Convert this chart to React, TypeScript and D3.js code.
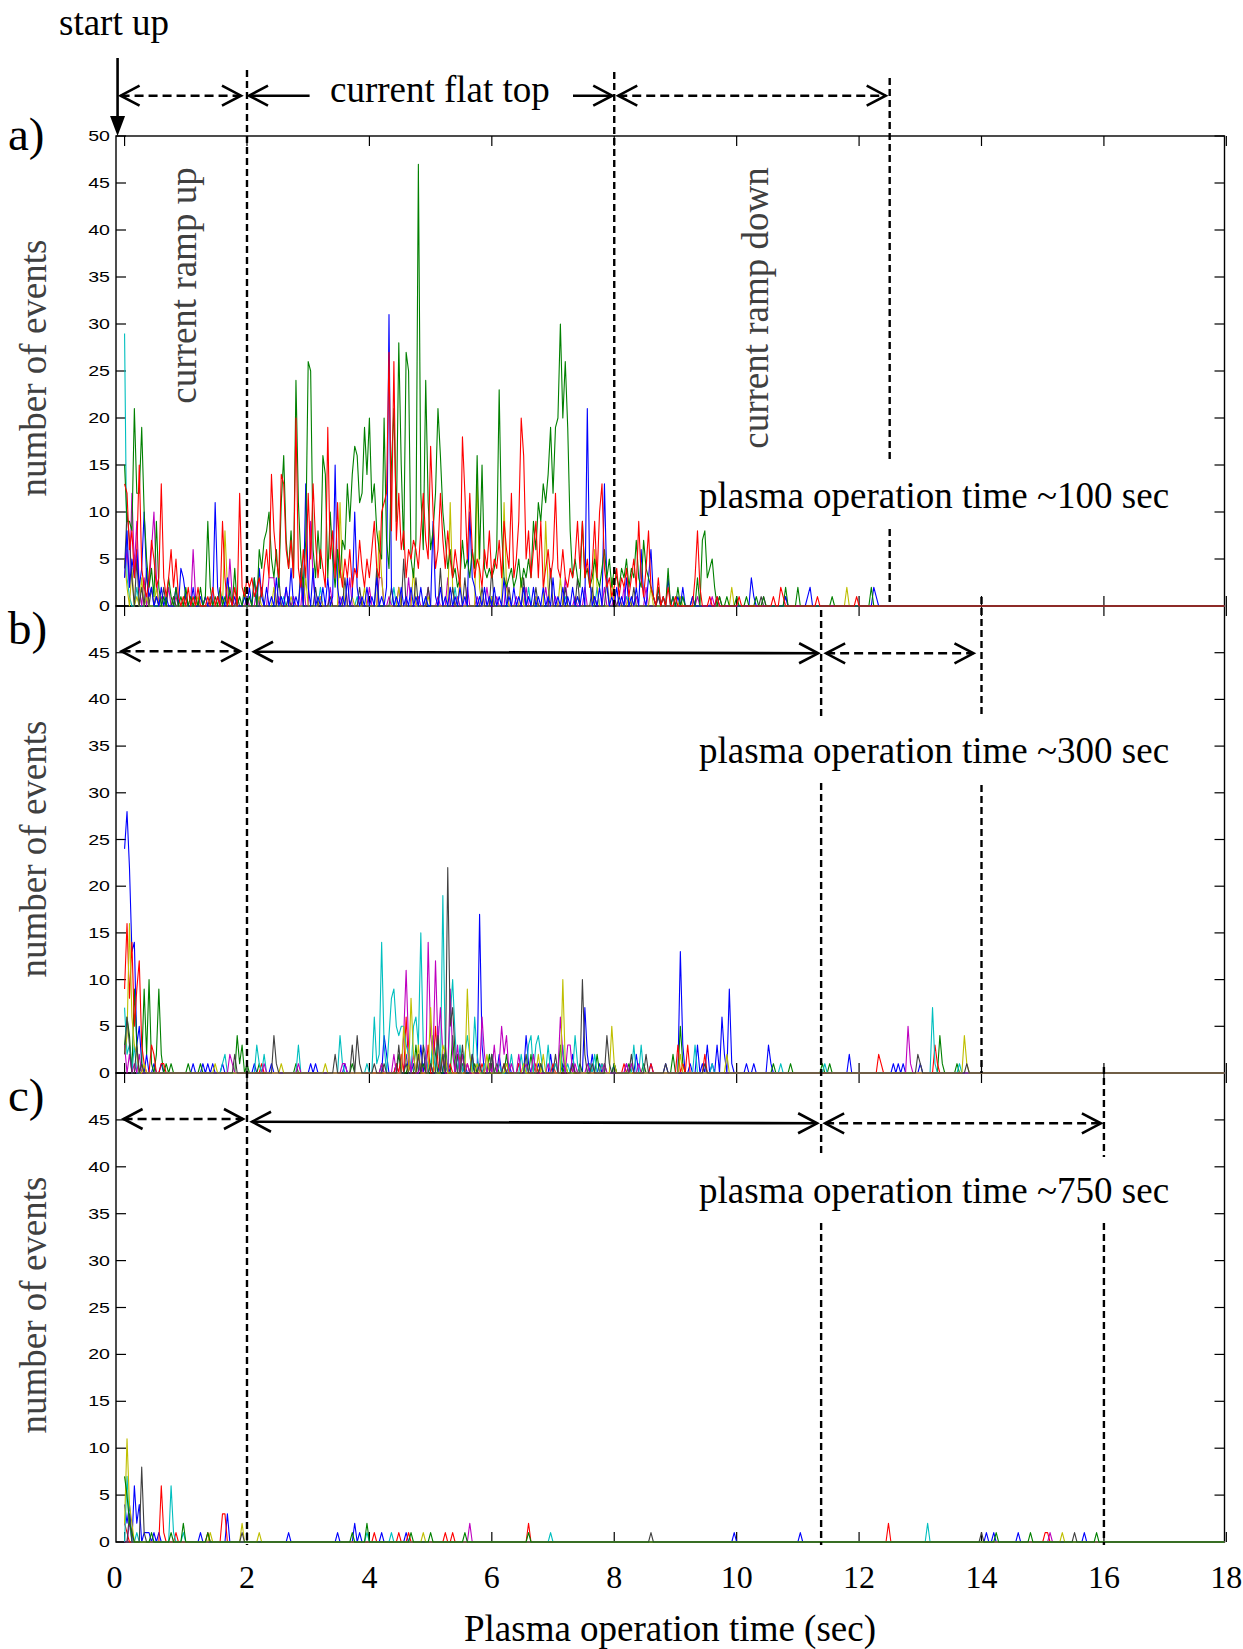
import React from "react";
import * as d3 from "d3";

// ---------------- DATA ----------------
// time bin width (s) of the event-count histograms
const BIN = 0.04;
const T_MAX = 18;

// Panel a) plasma operation time ~100 sec : [time (s), number of events]
const aCyan = [[0,29],[0.04,3],[0.08,1],[0.2,2],[0.36,1],[2.6,1],[3.2,2],[3.8,1],[4.4,2],[4.9,1],[5.4,2],[6.0,1],[6.6,2],[7.2,1],[7.7,2],[8.2,1],[9.1,1]];
const aMagenta = [[0,3],[0.04,6],[0.08,2],[0.12,12],[0.16,4],[0.2,9],[0.24,2],[0.32,3],[0.4,2],[0.44,6],[0.48,10],[0.52,3],[0.6,1],[0.72,2],[0.84,1],[1.0,1],[1.12,6],[1.16,1],[1.32,1],[1.52,1],[1.72,5],[1.76,1],[2.0,1],[2.16,2],[2.36,3],[2.4,3],[2.44,3],[2.52,1],[2.64,2],[2.76,1],[2.92,3],[3.04,9],[3.08,3],[3.2,1],[3.36,2],[3.52,1],[3.68,3],[3.84,1],[4.0,2],[4.16,3],[4.2,3],[4.32,1],[4.48,2],[4.64,3],[4.8,1],[4.96,2],[5.12,1],[5.28,3],[5.44,1],[5.6,2],[5.76,1],[5.92,2],[6.08,1],[6.24,3],[6.4,1],[6.56,2],[6.72,1],[6.88,2],[7.04,1],[7.2,3],[7.36,1],[7.52,2],[7.68,1],[7.84,2],[8.0,1],[8.16,2],[8.36,1],[8.52,2],[8.72,1],[9.36,1],[9.6,1],[10.44,1],[10.8,1]];
const aYellow = [[0,5],[0.04,2],[0.12,4],[0.2,1],[0.28,3],[0.36,1],[0.52,2],[0.8,1],[1.2,1],[1.64,8],[1.68,2],[2.2,1],[2.44,2],[2.72,1],[2.96,3],[3.2,1],[3.52,11],[3.56,3],[3.72,1],[3.92,2],[4.16,8],[4.2,3],[4.48,2],[4.72,4],[4.96,1],[5.32,11],[5.36,2],[5.48,3],[5.76,14],[5.8,2],[6.0,1],[6.2,11],[6.24,2],[6.48,3],[6.72,1],[6.88,9],[6.92,2],[7.12,3],[7.4,1],[7.68,6],[7.72,2],[7.96,3],[8.24,1],[8.6,2],[9.08,1],[9.9,2],[11.8,2]];
const aBlack = [[0,4],[0.04,10],[0.08,7],[0.12,3],[0.2,5],[0.28,2],[0.36,4],[0.44,2],[0.52,1],[0.64,2],[0.8,1],[1.0,1],[1.4,1],[1.84,1],[2.24,2],[2.52,3],[2.68,1],[2.88,4],[3.12,2],[3.36,1],[3.6,3],[3.84,2],[4.12,4],[4.36,2],[4.56,5],[4.76,3],[4.96,2],[5.16,4],[5.36,2],[5.56,3],[5.84,2],[6.0,4],[6.28,2],[6.52,3],[6.72,2],[6.96,4],[7.2,2],[7.4,3],[7.64,2],[7.88,3],[8.08,1],[8.32,2],[8.72,1],[9.28,1],[9.72,1],[10.4,1]];
const aBlue = [[0,3],[0.04,8],[0.08,2],[0.12,5],[0.16,3],[0.2,6],[0.24,2],[0.28,4],[0.32,10],[0.36,3],[0.4,1],[0.44,2],[0.52,1],[0.6,2],[0.68,1],[0.84,2],[0.92,4],[0.96,3],[1.0,1],[1.12,2],[1.24,1],[1.32,1],[1.48,11],[1.52,2],[1.6,1],[1.68,3],[1.72,1],[1.8,1],[1.96,1],[2.04,2],[2.12,3],[2.2,4],[2.24,1],[2.32,2],[2.4,1],[2.48,3],[2.56,1],[2.64,2],[2.72,4],[2.8,1],[2.88,3],[2.96,13],[3.0,2],[3.08,4],[3.16,1],[3.24,2],[3.32,3],[3.4,1],[3.44,15],[3.48,2],[3.56,1],[3.64,3],[3.72,1],[3.76,10],[3.8,2],[3.88,1],[3.96,2],[4.04,1],[4.12,3],[4.2,1],[4.28,2],[4.32,31],[4.36,2],[4.44,1],[4.52,2],[4.6,1],[4.68,2],[4.76,1],[4.84,2],[4.92,1],[5.04,9],[5.08,1],[5.16,2],[5.24,1],[5.32,2],[5.4,1],[5.48,2],[5.56,1],[5.64,10],[5.68,3],[5.72,2],[5.8,1],[5.88,2],[5.96,1],[6.04,2],[6.12,1],[6.2,3],[6.28,1],[6.36,2],[6.44,1],[6.52,2],[6.6,1],[6.68,2],[6.76,1],[6.84,2],[6.92,1],[7.0,3],[7.08,1],[7.16,2],[7.24,1],[7.32,2],[7.4,1],[7.48,2],[7.56,21],[7.6,3],[7.68,1],[7.76,2],[7.84,13],[7.88,2],[7.96,1],[8.04,2],[8.12,1],[8.2,3],[8.28,1],[8.36,2],[8.44,6],[8.48,1],[8.56,3],[8.6,6],[8.64,1],[8.72,2],[8.8,1],[8.88,3],[8.96,1],[9.04,1],[9.12,2],[9.28,1],[9.68,1],[10.24,3],[10.28,1],[10.8,1],[11.16,1],[11.2,2],[12.24,2],[12.28,1]];
const aGreen = [[0,15],[0.04,9],[0.08,9],[0.12,8],[0.16,21],[0.2,12],[0.24,12],[0.28,19],[0.32,10],[0.36,5],[0.4,2],[0.44,4],[0.48,1],[0.52,9],[0.56,2],[0.64,1],[0.72,3],[0.76,1],[0.84,2],[0.92,1],[1.0,2],[1.08,1],[1.16,1],[1.24,2],[1.32,1],[1.36,9],[1.4,2],[1.48,1],[1.56,2],[1.64,1],[1.72,2],[1.8,4],[1.88,1],[1.96,2],[2.04,1],[2.12,3],[2.2,6],[2.24,4],[2.28,7],[2.32,8],[2.36,10],[2.4,5],[2.44,3],[2.48,6],[2.52,2],[2.56,11],[2.6,16],[2.64,7],[2.68,4],[2.72,8],[2.76,3],[2.8,24],[2.84,11],[2.88,5],[2.92,2],[2.96,7],[3.0,26],[3.04,25],[3.08,6],[3.12,3],[3.16,8],[3.2,4],[3.24,16],[3.28,14],[3.32,3],[3.36,10],[3.4,5],[3.44,2],[3.48,6],[3.52,3],[3.56,7],[3.6,6],[3.64,13],[3.68,9],[3.72,14],[3.76,17],[3.8,16],[3.84,11],[3.88,12],[3.92,19],[3.96,14],[4.0,20],[4.04,11],[4.08,13],[4.12,8],[4.16,6],[4.2,5],[4.24,20],[4.28,7],[4.32,4],[4.36,15],[4.4,21],[4.44,9],[4.48,28],[4.52,15],[4.56,6],[4.6,27],[4.64,25],[4.68,5],[4.72,3],[4.76,7],[4.8,47],[4.84,12],[4.88,6],[4.92,24],[4.96,11],[5.0,6],[5.04,8],[5.08,12],[5.12,21],[5.16,16],[5.2,10],[5.24,7],[5.28,4],[5.32,6],[5.36,3],[5.4,4],[5.44,2],[5.48,3],[5.52,7],[5.56,4],[5.6,5],[5.64,3],[5.68,6],[5.72,4],[5.76,16],[5.8,5],[5.84,15],[5.88,4],[5.92,3],[5.96,4],[6.0,3],[6.04,4],[6.08,6],[6.12,23],[6.16,8],[6.2,3],[6.24,2],[6.28,3],[6.32,4],[6.36,2],[6.4,3],[6.44,5],[6.48,2],[6.52,4],[6.56,3],[6.6,5],[6.64,3],[6.68,9],[6.72,6],[6.76,11],[6.8,9],[6.84,13],[6.88,11],[6.92,14],[6.96,19],[7.0,12],[7.04,19],[7.08,20],[7.12,30],[7.16,20],[7.2,26],[7.24,19],[7.28,8],[7.32,3],[7.36,5],[7.4,3],[7.44,2],[7.48,9],[7.52,3],[7.56,4],[7.6,2],[7.64,3],[7.68,5],[7.72,3],[7.76,2],[7.8,4],[7.84,6],[7.88,3],[7.92,5],[7.96,2],[8.0,4],[8.04,3],[8.08,2],[8.12,4],[8.16,3],[8.2,5],[8.24,2],[8.28,4],[8.32,3],[8.36,7],[8.4,3],[8.44,2],[8.48,7],[8.52,4],[8.56,3],[8.6,2],[8.64,1],[8.72,2],[8.8,1],[8.88,4],[8.96,1],[9.04,2],[9.12,1],[9.36,3],[9.44,7],[9.48,8],[9.52,3],[9.56,4],[9.6,5],[9.64,2],[9.72,1],[9.84,1],[10.0,1],[10.16,1],[10.32,1],[10.44,1],[10.8,2],[11.0,2],[11.56,1],[12.2,2]];
const aRed = [[0,13],[0.04,12],[0.08,6],[0.12,8],[0.16,3],[0.2,6],[0.24,15],[0.28,4],[0.32,2],[0.36,1],[0.4,3],[0.44,7],[0.48,5],[0.52,2],[0.56,3],[0.6,13],[0.64,3],[0.68,1],[0.72,3],[0.76,6],[0.8,2],[0.84,5],[0.88,1],[0.96,1],[1.04,2],[1.12,1],[1.2,2],[1.36,1],[1.44,2],[1.52,1],[1.6,9],[1.64,3],[1.72,1],[1.8,2],[1.88,12],[1.92,2],[1.96,1],[2.0,3],[2.04,2],[2.08,3],[2.12,1],[2.16,2],[2.2,3],[2.24,1],[2.28,4],[2.32,6],[2.36,3],[2.4,14],[2.44,8],[2.48,5],[2.52,3],[2.56,14],[2.6,13],[2.64,6],[2.68,4],[2.72,7],[2.76,3],[2.8,20],[2.84,4],[2.88,2],[2.92,6],[2.96,3],[3.0,12],[3.04,5],[3.08,13],[3.12,7],[3.16,3],[3.2,6],[3.24,4],[3.28,2],[3.32,19],[3.36,5],[3.4,8],[3.44,3],[3.48,11],[3.52,4],[3.56,2],[3.6,5],[3.64,3],[3.68,6],[3.72,2],[3.76,4],[3.8,3],[3.84,7],[3.88,4],[3.92,2],[3.96,5],[4.0,3],[4.04,6],[4.08,9],[4.12,4],[4.16,3],[4.2,10],[4.24,11],[4.28,12],[4.32,27],[4.36,8],[4.4,26],[4.44,7],[4.48,12],[4.52,6],[4.56,8],[4.6,3],[4.64,6],[4.68,5],[4.72,7],[4.76,6],[4.8,4],[4.84,8],[4.88,12],[4.92,7],[4.96,5],[5.0,17],[5.04,10],[5.08,4],[5.12,6],[5.16,12],[5.2,7],[5.24,4],[5.28,8],[5.32,5],[5.36,3],[5.4,6],[5.44,4],[5.48,2],[5.52,18],[5.56,12],[5.6,5],[5.64,12],[5.68,6],[5.72,3],[5.76,5],[5.8,4],[5.84,2],[5.88,6],[5.92,4],[5.96,8],[6.0,3],[6.04,5],[6.08,4],[6.12,7],[6.16,3],[6.2,9],[6.24,6],[6.28,4],[6.32,12],[6.36,3],[6.4,5],[6.44,9],[6.48,20],[6.52,16],[6.56,5],[6.6,8],[6.64,3],[6.68,6],[6.72,9],[6.76,3],[6.8,9],[6.84,2],[6.88,4],[6.92,6],[6.96,3],[7.0,5],[7.04,12],[7.08,4],[7.12,3],[7.16,6],[7.2,3],[7.24,2],[7.28,4],[7.32,3],[7.36,5],[7.4,9],[7.44,4],[7.48,9],[7.52,3],[7.56,5],[7.6,2],[7.64,4],[7.68,9],[7.72,3],[7.76,10],[7.8,13],[7.84,4],[7.88,2],[7.92,3],[7.96,1],[8.0,2],[8.04,4],[8.08,1],[8.12,3],[8.16,2],[8.2,4],[8.24,1],[8.28,3],[8.32,5],[8.36,2],[8.4,9],[8.44,3],[8.48,1],[8.52,4],[8.56,8],[8.6,2],[8.64,1],[8.72,3],[8.8,1],[8.88,2],[9.0,1],[9.32,3],[9.36,8],[9.4,2],[9.56,1],[9.68,1],[10.04,1],[10.6,1],[10.72,2],[10.76,1],[11.32,1],[11.96,1]];

// Panel b) plasma operation time ~300 sec
const bBlue = [[0,24],[0.04,28],[0.08,22],[0.12,13],[0.16,14],[0.2,3],[0.24,5],[0.28,1],[0.36,2],[0.48,1],[0.6,1],[1.12,1],[1.28,1],[1.36,1],[1.44,1],[1.6,1],[2.12,1],[2.4,1],[3.04,1],[3.12,1],[3.6,1],[4.24,4],[4.28,2],[4.44,1],[4.6,2],[4.72,1],[4.84,3],[4.92,2],[5.0,1],[5.16,2],[5.28,1],[5.44,2],[5.56,1],[5.68,2],[5.8,17],[5.84,3],[5.96,1],[6.12,2],[6.28,1],[6.56,4],[6.6,1],[6.76,1],[6.96,2],[7.16,1],[7.32,2],[7.52,7],[7.56,2],[7.64,2],[7.76,1],[8.0,1],[8.2,1],[8.36,2],[8.6,1],[8.84,1],[9.08,13],[9.12,3],[9.24,1],[9.36,3],[9.44,1],[9.52,3],[9.6,1],[9.68,3],[9.76,6],[9.8,2],[9.88,9],[9.92,1],[10.16,1],[10.28,1],[10.52,3],[10.56,1],[11.84,2],[12.56,1],[12.64,1],[12.72,1],[13.0,1]];
const bGreen = [[0,3],[0.04,6],[0.08,4],[0.16,9],[0.2,3],[0.28,1],[0.32,9],[0.36,2],[0.4,10],[0.44,1],[0.52,2],[0.56,9],[0.6,2],[0.68,1],[0.76,1],[1.04,1],[1.24,1],[1.84,4],[1.88,1],[1.92,3],[2.0,1],[2.2,1],[2.8,1],[3.72,1],[4.2,1],[4.48,2],[4.64,1],[4.76,3],[4.88,1],[5.04,4],[5.08,2],[5.24,3],[5.36,4],[5.44,2],[5.52,1],[5.72,1],[5.96,2],[6.08,1],[6.24,2],[6.44,1],[6.64,2],[6.8,1],[7.12,3],[7.2,1],[7.44,1],[7.72,2],[7.84,1],[8.0,1],[8.24,1],[8.48,1],[8.96,2],[9.08,5],[9.12,1],[10.6,1],[10.88,1],[11.4,1],[11.52,1],[13.32,4],[13.36,1],[13.6,1]];
const bRed = [[0,9],[0.04,16],[0.08,8],[0.12,14],[0.16,5],[0.2,9],[0.24,12],[0.28,3],[0.32,1],[0.44,3],[0.48,2],[0.6,1],[0.64,1],[2.24,1],[4.44,1],[4.52,2],[4.6,6],[4.64,1],[4.8,2],[4.96,3],[5.08,5],[5.12,1],[5.2,2],[5.32,1],[5.48,2],[5.6,1],[5.84,1],[6.0,2],[6.2,1],[6.44,1],[6.72,1],[7.0,1],[7.32,1],[7.6,1],[7.8,1],[8.16,1],[8.6,1],[9.04,3],[9.12,1],[9.2,3],[9.48,2],[12.32,2],[12.36,1],[13.24,3],[13.28,1]];
const bCyan = [[0,7],[0.04,2],[0.08,3],[0.16,3],[0.28,1],[1.6,1],[1.64,2],[2.16,3],[2.2,1],[2.28,2],[2.84,3],[3.52,4],[3.56,1],[3.96,1],[4.08,6],[4.12,1],[4.16,2],[4.2,14],[4.24,3],[4.32,4],[4.36,8],[4.4,9],[4.44,5],[4.48,4],[4.52,5],[4.56,5],[4.6,3],[4.64,2],[4.72,5],[4.76,6],[4.8,3],[4.84,15],[4.88,3],[4.92,2],[5.0,1],[5.04,3],[5.12,5],[5.2,19],[5.24,2],[5.32,6],[5.36,10],[5.4,4],[5.48,3],[5.56,2],[5.6,4],[5.64,2],[5.72,6],[5.76,2],[5.88,1],[6.0,2],[6.12,1],[6.32,2],[6.48,2],[6.6,3],[6.64,4],[6.72,3],[6.76,4],[6.8,2],[6.92,3],[7.04,1],[7.16,3],[7.24,1],[7.36,4],[7.4,1],[7.6,1],[7.68,2],[7.8,1],[8.32,3],[8.44,3],[9.32,3],[9.6,1],[10.72,1],[11.44,1],[13.2,7],[13.24,1],[13.64,1]];
const bMagenta = [[0,3],[0.08,2],[0.16,1],[0.24,2],[1.72,2],[1.76,1],[2.28,1],[2.84,1],[3.56,1],[3.6,1],[4.2,1],[4.4,2],[4.56,4],[4.6,11],[4.64,3],[4.72,2],[4.84,1],[4.96,14],[5.0,4],[5.04,2],[5.08,12],[5.12,3],[5.16,7],[5.2,2],[5.32,9],[5.36,2],[5.44,3],[5.52,2],[5.6,1],[5.84,6],[5.88,2],[5.96,1],[6.04,3],[6.12,1],[6.16,5],[6.2,2],[6.24,4],[6.32,1],[6.44,2],[6.56,1],[6.68,2],[6.92,1],[7.12,6],[7.16,2],[7.24,3],[7.28,3],[7.36,1],[7.56,1],[7.84,1],[8.2,1],[8.28,1],[8.4,1],[12.8,5],[12.84,1]];
const bYellow = [[0,2],[0.04,4],[0.08,16],[0.12,6],[0.16,3],[0.2,2],[0.32,1],[1.48,1],[2.56,1],[3.28,1],[4.56,5],[4.6,1],[4.68,8],[4.72,2],[4.8,3],[5.0,7],[5.04,1],[5.2,3],[5.24,2],[5.6,9],[5.64,2],[5.76,1],[5.92,2],[6.24,1],[6.52,1],[6.76,2],[6.84,2],[7.16,10],[7.2,1],[7.96,5],[8.0,1],[9.08,2],[9.84,2],[13.72,4],[13.76,1]];
const bBlack = [[0,2],[0.04,6],[0.08,3],[0.2,3],[0.28,1],[1.8,2],[2.44,4],[2.48,1],[3.44,2],[3.72,3],[3.8,4],[3.84,1],[4.08,1],[4.24,1],[4.48,3],[4.6,1],[4.8,2],[4.88,3],[5.0,1],[5.12,4],[5.2,2],[5.28,22],[5.32,5],[5.36,7],[5.4,2],[5.52,3],[5.68,2],[5.8,1],[6.0,2],[6.2,1],[6.56,2],[6.8,1],[7.04,2],[7.32,1],[7.48,10],[7.52,2],[7.64,1],[7.88,4],[7.92,1],[8.28,2],[8.52,2],[8.84,1],[9.48,1],[12.96,2],[13.0,1],[13.76,1]];

// Panel c) plasma operation time ~750 sec
const cBlue = [[0,4],[0.04,2],[0.08,4],[0.16,6],[0.2,2],[0.24,4],[0.32,1],[0.36,1],[0.4,1],[0.48,1],[0.56,1],[1.24,1],[1.68,3],[2.68,1],[3.48,1],[3.76,2],[3.84,1],[4.2,1],[4.6,1],[9.96,1],[11.04,1],[14.08,1],[14.2,1],[14.6,1],[15.68,1]];
const cRed = [[0,2],[0.04,1],[0.6,6],[0.64,1],[0.84,1],[1.36,1],[1.6,3],[1.64,3],[4.08,1],[4.48,1],[4.64,1],[5.24,1],[5.36,1],[6.6,2],[12.48,2],[15.04,1],[15.08,1]];
const cCyan = [[0.04,7],[0.08,2],[0.2,1],[0.76,6],[0.8,1],[0.96,1],[3.96,1],[4.36,1],[6.96,1],[13.12,2]];
const cMagenta = [[0.08,2],[0.12,1],[5.64,2],[15.12,1]];
const cYellow = [[0,2],[0.04,11],[0.08,4],[0.12,2],[1.4,1],[1.92,2],[2.2,1],[4.88,1],[15.32,1]];
const cBlack = [[0.08,3],[0.28,8],[0.32,1],[1.92,1],[8.6,1],[14.0,1],[15.52,1]];
const cGreen = [[0,7],[0.04,5],[0.08,2],[0.12,1],[0.44,1],[0.76,1],[0.96,2],[1.36,1],[3.72,1],[3.96,2],[4.68,1],[5.0,1],[5.56,1],[6.6,1],[14.24,1],[14.8,1],[15.88,1]];

// phase boundaries (s): start, end of ramp-up, end of flat top, end of ramp-down
const phasesA = [0, 2, 8, 12.5];
const phasesB = [0, 2, 11.38, 14];
const phasesC = [0, 2, 11.38, 16];

const xTicks = [0, 2, 4, 6, 8, 10, 12, 14, 16, 18];
const yTicksA = [0, 5, 10, 15, 20, 25, 30, 35, 40, 45, 50];
const yTicksBC = [0, 5, 10, 15, 20, 25, 30, 35, 40, 45];

const panelLabels = ["a)", "b)", "c)"];
const opTimeLabels = ["plasma operation time ~100 sec", "plasma operation time ~300 sec", "plasma operation time ~750 sec"];

const COLORS: Record<string, string> = {
  b: "#0000ff", g: "#008000", r: "#ff0000", c: "#00bfbf", m: "#bf00bf", y: "#bfbf00", k: "#404040",
};

// ---------------- LAYOUT ----------------
const W = 1243, H = 1649;
const LEFT = 116, RIGHT = 1224.5;
const panels = [
  { top: 136, bottom: 606, series: [["c", aCyan], ["m", aMagenta], ["y", aYellow], ["k", aBlack], ["b", aBlue], ["g", aGreen], ["r", aRed]], yTicks: yTicksA, phases: phasesA, label: panelLabels[0], labelY: 150, ylabY: 368, opY: 508 },
  { top: 606, bottom: 1073, series: [["b", bBlue], ["g", bGreen], ["r", bRed], ["c", bCyan], ["m", bMagenta], ["y", bYellow], ["k", bBlack]], yTicks: yTicksBC, phases: phasesB, label: panelLabels[1], labelY: 644, ylabY: 849, opY: 763 },
  { top: 1073, bottom: 1542, series: [["b", cBlue], ["r", cRed], ["c", cCyan], ["m", cMagenta], ["y", cYellow], ["k", cBlack], ["g", cGreen]], yTicks: yTicksBC, phases: phasesC, label: panelLabels[2], labelY: 1111, ylabY: 1305, opY: 1203 },
] as const;

const x = d3.scaleLinear().domain([-0.14, 17.97]).range([LEFT, RIGHT]);
const SERIF = "'Liberation Serif','Times New Roman',Times,serif";
const SANS = "'Liberation Sans',Arial,Helvetica,sans-serif";

function binned(points: number[][]): [number, number][] {
  const n = Math.round(T_MAX / BIN);
  const vals = new Array(n + 1).fill(0);
  for (const [t, v] of points) vals[Math.round(t / BIN)] = v;
  return vals.map((v, i) => [i * BIN, v]);
}

function Arrow({ x1, y1, x2, y2, dashed, heads }: { x1: number; y1: number; x2: number; y2: number; dashed: boolean; heads: "both" | "start" | "end" }) {
  const L = 19, Hh = 10;
  const ang = Math.atan2(y2 - y1, x2 - x1);
  const chevron = (tx: number, ty: number, dir: number) => {
    const a = ang + (dir < 0 ? Math.PI : 0);
    const bx = tx - L * Math.cos(a), by = ty - L * Math.sin(a);
    const px = -Math.sin(a) * Hh, py = Math.cos(a) * Hh;
    return `M${bx + px},${by + py}L${tx},${ty}L${bx - px},${by - py}`;
  };
  return (
    <g fill="none" stroke="#000" strokeWidth={2.6}>
      <line x1={x1} y1={y1} x2={x2} y2={y2} strokeDasharray={dashed ? "9 5" : undefined} />
      {(heads === "both" || heads === "start") && <path d={chevron(x1, y1, -1)} />}
      {(heads === "both" || heads === "end") && <path d={chevron(x2, y2, 1)} />}
    </g>
  );
}

export default function App() {
  const vlines: { xv: number; segs: [number, number][] }[] = [
    { xv: phasesA[1], segs: [[70, 1545]] },
    { xv: phasesA[2], segs: [[72, 608]] },
    { xv: phasesA[3], segs: [[78, 463], [529, 606]] },
    { xv: phasesB[2], segs: [[610, 717], [783, 1157], [1223, 1545]] },
    { xv: phasesB[3], segs: [[597, 717], [785, 1073]] },
    { xv: phasesC[3], segs: [[1067, 1157], [1223, 1545]] },
  ];

  return (
    <svg width={W} height={H} style={{ position: "absolute", left: 0, top: 0, background: "#fff" }} fontFamily={SERIF}>
      <rect width={W} height={H} fill="#fff" />
      <defs>
        {panels.map((p, i) => (
          <clipPath id={`clip${i}`} key={i}>
            <rect x={LEFT} y={p.top - 2} width={RIGHT - LEFT} height={p.bottom - p.top + 3} />
          </clipPath>
        ))}
      </defs>

      {/* axes boxes and ticks */}
      {panels.map((p, i) => {
        const y = d3.scaleLinear().domain([0, 50]).range([p.bottom, p.top]);
        return (
          <g key={`ax${i}`}>
            <rect x={LEFT} y={p.top} width={RIGHT - LEFT} height={p.bottom - p.top} fill="none" stroke="#000" strokeWidth={1.4} />
            {xTicks.map((t) => (
              <g key={t} stroke="#000" strokeWidth={1.2}>
                <line x1={x(t)} x2={x(t)} y1={p.top} y2={p.top + 10} />
                <line x1={x(t)} x2={x(t)} y1={p.bottom} y2={p.bottom - 10} />
              </g>
            ))}
            {p.yTicks.map((v) => (
              <g key={v}>
                <line x1={LEFT} x2={LEFT + 10} y1={y(v)} y2={y(v)} stroke="#000" strokeWidth={1.2} />
                <line x1={RIGHT} x2={RIGHT - 10} y1={y(v)} y2={y(v)} stroke="#000" strokeWidth={1.2} />
                <text transform={`translate(${LEFT - 6},${y(v)}) scale(1.35,1)`} textAnchor="end" dominantBaseline="central" fontFamily={SANS} fontSize={14.5} fill="#000">{v}</text>
              </g>
            ))}
          </g>
        );
      })}

      {/* data */}
      {panels.map((p, i) => {
        const y = d3.scaleLinear().domain([0, 50]).range([p.bottom, p.top]);
        const line = d3.line<[number, number]>().x((d) => x(d[0])).y((d) => y(d[1]));
        return (
          <g key={`d${i}`} clipPath={`url(#clip${i})`}>
            {p.series.map(([c, pts], j) => (
              <path key={j} d={line(binned(pts as number[][])) || ""} fill="none" stroke={COLORS[c as string]} strokeWidth={1.1} strokeLinejoin="round" />
            ))}
          </g>
        );
      })}

      {/* phase boundary dashed lines */}
      {vlines.map((v, i) => (
        <g key={`v${i}`} stroke="#000" strokeWidth={2.4} strokeDasharray="7 4">
          {v.segs.map(([a, b], k) => (
            <line key={k} x1={x(v.xv)} x2={x(v.xv)} y1={a} y2={b} />
          ))}
        </g>
      ))}

      {/* start up arrow */}
      <line x1={x(0) - 7} x2={x(0) - 7} y1={58} y2={118} stroke="#000" strokeWidth={2.6} />
      <path d={`M${x(0) - 14.5},116L${x(0) + 0.5},116L${x(0) - 7},136Z`} fill="#000" />
      <text x={59} y={35} fontSize={37}>start up</text>

      {/* panel a annotation arrows */}
      <Arrow x1={x(phasesA[0]) - 4} y1={95.7} x2={x(phasesA[1]) - 6} y2={95.7} dashed heads="both" />
      <Arrow x1={x(phasesA[1]) + 2} y1={95.7} x2={309.6} y2={95.7} dashed={false} heads="start" />
      <text x={330} y={101.7} fontSize={37}>current flat top</text>
      <Arrow x1={573} y1={95.7} x2={x(phasesA[2]) - 2} y2={95.7} dashed={false} heads="end" />
      <Arrow x1={x(phasesA[2]) + 4} y1={95.7} x2={x(phasesA[3]) - 4} y2={95.7} dashed heads="both" />

      {/* panel b arrows */}
      <Arrow x1={x(phasesB[0]) - 3} y1={651.3} x2={x(phasesB[1]) - 7} y2={651.3} dashed heads="both" />
      <Arrow x1={x(phasesB[1]) + 7} y1={651.7} x2={x(phasesB[2]) - 3} y2={653.3} dashed={false} heads="both" />
      <Arrow x1={x(phasesB[2]) + 5} y1={653.3} x2={x(phasesB[3]) - 8} y2={653.3} dashed heads="both" />

      {/* panel c arrows */}
      <Arrow x1={x(phasesC[0]) - 1} y1={1119} x2={x(phasesC[1]) - 4} y2={1119} dashed heads="both" />
      <Arrow x1={x(phasesC[1]) + 5} y1={1121.7} x2={x(phasesC[2]) - 4} y2={1123.3} dashed={false} heads="both" />
      <Arrow x1={x(phasesC[2]) + 4} y1={1123.3} x2={x(phasesC[3]) - 3} y2={1123.3} dashed heads="both" />

      {/* rotated phase labels */}
      <text transform="translate(196,285.5) rotate(-90)" textAnchor="middle" fontSize={37} fill="#404040">current ramp up</text>
      <text transform="translate(768,308) rotate(-90)" textAnchor="middle" fontSize={37} fill="#404040">current ramp down</text>

      {/* panel labels, y labels, operation time labels */}
      {panels.map((p, i) => (
        <g key={`l${i}`}>
          <text x={8} y={p.labelY} fontSize={47}>{p.label}</text>
          <text transform={`translate(46,${p.ylabY}) rotate(-90)`} textAnchor="middle" fontSize={37} fill="#404040">number of events</text>
          <text x={699} y={p.opY} fontSize={37}>{opTimeLabels[i]}</text>
        </g>
      ))}

      {/* x tick labels */}
      {xTicks.map((t) => (
        <text key={t} x={x(t) - (t === 0 ? 10 : 0)} y={1588} textAnchor="middle" fontSize={32}>{t}</text>
      ))}
      <text x={670} y={1641} textAnchor="middle" fontSize={37}>Plasma operation time (sec)</text>
    </svg>
  );
}
